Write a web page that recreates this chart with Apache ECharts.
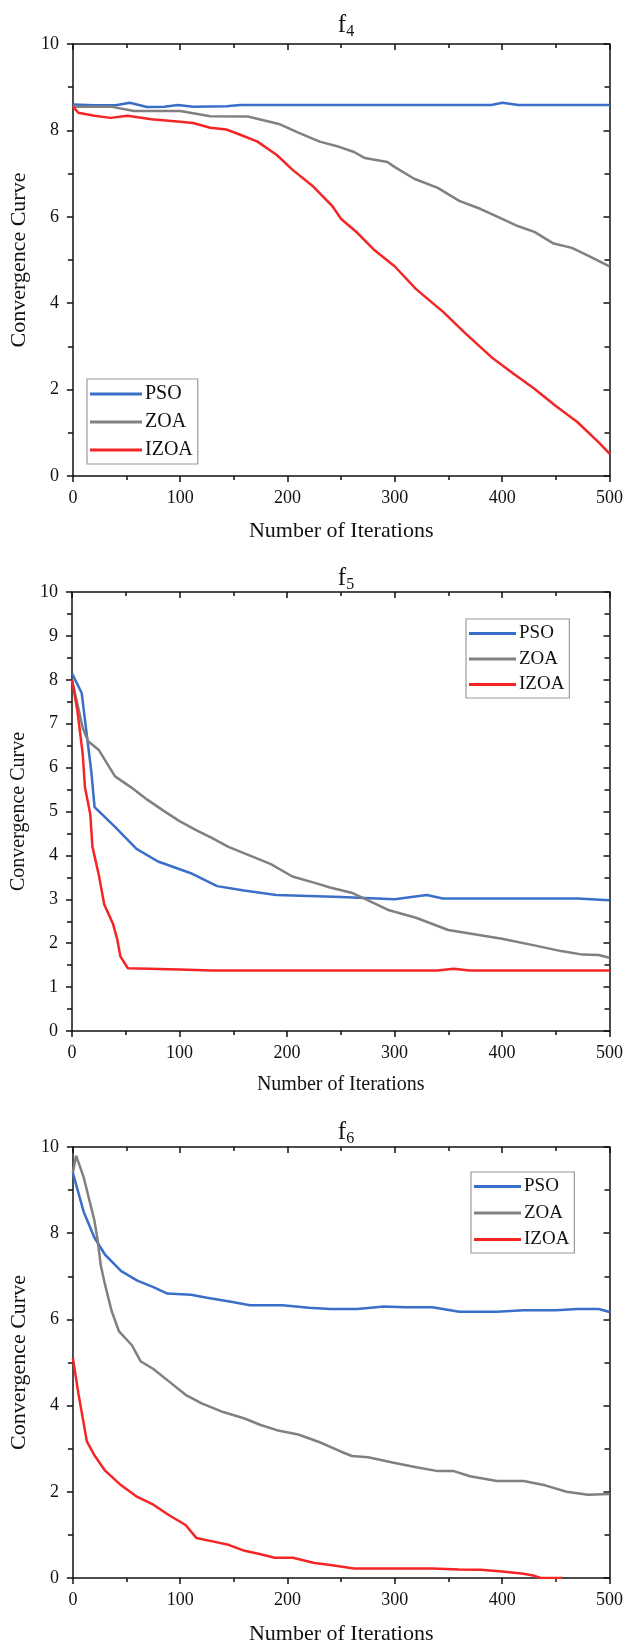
<!DOCTYPE html>
<html>
<head>
<meta charset="utf-8">
<script src="https://cdn.jsdelivr.net/npm/echarts@6/dist/echarts.min.js"></script>
<style>
  html, body { margin: 0; padding: 0; background: #fff; }
  #chart { width: 626px; height: 1650px; }
</style>
</head>
<body>
<div id="chart"></div>
<script>
// f4
const f4PsoX = [0, 20, 40, 53, 69, 85, 98, 112, 143, 156, 390, 400, 415, 500]
const f4PsoY = [8.6, 8.58, 8.58, 8.64, 8.54, 8.55, 8.59, 8.55, 8.56, 8.59, 8.59, 8.64, 8.59, 8.59]
const f4ZoaX = [0, 35, 57, 100, 128, 163, 192, 210, 230, 248, 262, 272, 293, 300, 318, 340, 360, 380, 400, 415, 430, 448, 465, 480, 500]
const f4ZoaY = [8.55, 8.55, 8.45, 8.45, 8.33, 8.32, 8.15, 7.95, 7.74, 7.62, 7.5, 7.36, 7.27, 7.15, 6.88, 6.67, 6.37, 6.18, 5.95, 5.78, 5.65, 5.38, 5.28, 5.1, 4.85]
const f4IzoaX = [0, 5, 20, 35, 51, 73, 100, 112, 128, 143, 156, 172, 190, 205, 224, 242, 250, 265, 280, 300, 320, 345, 365, 390, 410, 430, 450, 470, 490, 500]
const f4IzoaY = [8.55, 8.41, 8.34, 8.29, 8.34, 8.26, 8.2, 8.17, 8.06, 8.02, 7.9, 7.74, 7.43, 7.08, 6.7, 6.24, 5.95, 5.63, 5.25, 4.85, 4.32, 3.8, 3.32, 2.75, 2.38, 2.02, 1.62, 1.25, 0.78, 0.52]

// f5
const f5PsoX = [0, 9, 15, 18, 21, 40, 60, 80, 110, 135, 160, 190, 250, 300, 330, 345, 470, 500]
const f5PsoY = [8.15, 7.7, 6.5, 5.9, 5.1, 4.65, 4.15, 3.86, 3.6, 3.3, 3.2, 3.1, 3.05, 3.0, 3.1, 3.02, 3.02, 2.98]
const f5ZoaX = [0, 10, 15, 25, 40, 55, 70, 85, 100, 115, 130, 145, 165, 185, 205, 225, 240, 260, 275, 295, 320, 350, 400, 430, 455, 475, 490, 500]
const f5ZoaY = [8.0, 6.9, 6.6, 6.4, 5.8, 5.55, 5.27, 5.02, 4.78, 4.58, 4.4, 4.2, 4.0, 3.8, 3.52, 3.38, 3.27, 3.15, 2.98, 2.75, 2.58, 2.3, 2.1, 1.95, 1.82, 1.74, 1.73, 1.67]
const f5IzoaX = [0, 5, 10, 12, 17, 19, 25, 30, 38, 42, 45, 52, 100, 130, 340, 355, 370, 500]
const f5IzoaY = [8.0, 7.3, 6.3, 5.56, 4.94, 4.2, 3.55, 2.88, 2.45, 2.1, 1.7, 1.43, 1.4, 1.38, 1.38, 1.42, 1.38, 1.38]

// f6
const f6PsoX = [0, 10, 20, 30, 45, 60, 75, 88, 110, 125, 150, 165, 195, 220, 240, 265, 290, 310, 335, 360, 395, 420, 450, 470, 490, 500]
const f6PsoY = [9.4, 8.5, 7.9, 7.5, 7.12, 6.9, 6.75, 6.6, 6.57, 6.5, 6.4, 6.33, 6.33, 6.27, 6.24, 6.24, 6.3, 6.28, 6.28, 6.18, 6.18, 6.21, 6.21, 6.24, 6.24, 6.17]
const f6ZoaX = [0, 3, 10, 20, 23, 26, 30, 36, 43, 55, 63, 75, 90, 105, 120, 140, 160, 175, 190, 210, 230, 250, 260, 275, 300, 320, 340, 355, 370, 395, 420, 440, 460, 480, 500]
const f6ZoaY = [9.4, 9.8, 9.3, 8.3, 7.85, 7.25, 6.8, 6.2, 5.72, 5.4, 5.03, 4.85, 4.55, 4.25, 4.05, 3.85, 3.7, 3.55, 3.43, 3.33, 3.15, 2.93, 2.83, 2.8, 2.67, 2.57, 2.48, 2.48, 2.36, 2.25, 2.25, 2.15, 2.0, 1.93, 1.95]
const f6IzoaX = [0, 5, 13, 20, 30, 45, 60, 75, 90, 105, 115, 130, 145, 160, 175, 188, 205, 225, 240, 262, 300, 335, 360, 380, 400, 420, 430, 436, 456]
const f6IzoaY = [5.1, 4.3, 3.17, 2.85, 2.49, 2.15, 1.88, 1.7, 1.45, 1.23, 0.93, 0.85, 0.77, 0.63, 0.55, 0.47, 0.47, 0.35, 0.3, 0.22, 0.22, 0.22, 0.2, 0.19, 0.15, 0.1, 0.05, 0.0, 0.0]

const names = ['PSO', 'ZOA', 'IZOA']
const colors = ['#3a6fc9', '#808080', '#f52525']
const subs = ['4', '5', '6']

const FONT = 'Liberation Serif'
const zip = (xs, ys) => xs.map((x, i) => [x, ys[i]])

const panels = [
  { top: 44, height: 432, yInterval: 2, titleTop: 5, nameSize: 22, nameGap: 44,
    legend: { left: 87, top: 379, size: 20, itemWidth: 52, gap: 8 },
    lines: [zip(f4PsoX, f4PsoY), zip(f4ZoaX, f4ZoaY), zip(f4IzoaX, f4IzoaY)] },
  { top: 592, height: 439, yInterval: 1, titleTop: 558, nameSize: 20, nameGap: 44,
    legend: { left: 466, top: 619, size: 19, itemWidth: 47, gap: 6.5 },
    lines: [zip(f5PsoX, f5PsoY), zip(f5ZoaX, f5ZoaY), zip(f5IzoaX, f5IzoaY)] },
  { top: 1147, height: 431, yInterval: 2, titleTop: 1112, nameSize: 22, nameGap: 45,
    legend: { left: 471, top: 1172, size: 19, itemWidth: 47, gap: 7.5 },
    lines: [zip(f6PsoX, f6PsoY), zip(f6ZoaX, f6ZoaY), zip(f6IzoaX, f6IzoaY)] }
]

const axisLine = { show: true, onZero: false, lineStyle: { color: '#111', width: 1.5 } }
const labelStyle = { color: '#111', fontFamily: FONT, fontSize: 18 }
const tickStyle = { color: '#111', width: 1.5 }

const chart = echarts.init(document.getElementById('chart'))

const option = {
  animation: false,
  backgroundColor: '#fff',
  title: [],
  legend: [],
  grid: [],
  xAxis: [],
  yAxis: [],
  series: []
}

panels.forEach((p, k) => {
  option.title.push({
    text: '{f|f}{s|' + subs[k] + '}',
    left: 341,
    top: p.titleTop,
    textAlign: 'center',
    textStyle: {
      fontWeight: 'normal',
      rich: {
        f: { fontFamily: FONT, fontSize: 25, fontWeight: 'normal', color: '#111', lineHeight: 30 },
        s: { fontFamily: FONT, fontSize: 16, fontWeight: 'normal', color: '#111', verticalAlign: 'bottom', lineHeight: 30, padding: [14, 0, 0, 0] }
      }
    }
  })
  option.grid.push({ left: 72, right: 15, top: p.top, height: p.height })
  option.xAxis.push({
    type: 'value', gridIndex: k, position: 'bottom', min: 0, max: 500, interval: 100,
    axisLine: axisLine,
    axisTick: { show: true, length: 6, lineStyle: tickStyle },
    minorTick: { show: true, splitNumber: 2, length: 4, lineStyle: tickStyle },
    splitLine: { show: false },
    axisLabel: Object.assign({ margin: 13 }, labelStyle),
    name: 'Number of Iterations', nameLocation: 'middle', nameGap: p.nameGap,
    nameTextStyle: { color: '#111', fontFamily: FONT, fontSize: p.nameSize }
  }, {
    type: 'value', gridIndex: k, position: 'top', min: 0, max: 500, interval: 100,
    axisLine: axisLine,
    axisTick: { show: true, inside: true, length: 6, lineStyle: tickStyle },
    minorTick: { show: true, splitNumber: 2, length: 4, lineStyle: tickStyle },
    splitLine: { show: false },
    axisLabel: { show: false }
  })
  option.yAxis.push({
    type: 'value', gridIndex: k, position: 'left', min: 0, max: 10, interval: p.yInterval,
    axisLine: axisLine,
    axisTick: { show: true, length: 6, lineStyle: tickStyle },
    minorTick: { show: true, splitNumber: 2, length: 5, lineStyle: tickStyle },
    splitLine: { show: false },
    axisLabel: Object.assign({ margin: 14 }, labelStyle),
    name: 'Convergence Curve', nameLocation: 'middle', nameGap: 36,
    nameTextStyle: { color: '#111', fontFamily: FONT, fontSize: p.nameSize }
  }, {
    type: 'value', gridIndex: k, position: 'right', min: 0, max: 10, interval: p.yInterval,
    axisLine: axisLine,
    axisTick: { show: true, inside: true, length: 6, lineStyle: tickStyle },
    minorTick: { show: true, splitNumber: 2, length: 5, lineStyle: tickStyle },
    splitLine: { show: false },
    axisLabel: { show: false }
  })
  option.legend.push({
    data: names,
    orient: 'vertical',
    left: p.legend.left,
    top: p.legend.top,
    icon: 'rect',
    itemWidth: p.legend.itemWidth,
    itemHeight: 3,
    itemGap: p.legend.gap,
    padding: [5, 5, 4, 3],
    borderColor: '#9a9a9a',
    borderWidth: 1.2,
    backgroundColor: '#fff',
    textStyle: {
      color: '#111', fontFamily: FONT, fontSize: p.legend.size,
      lineHeight: p.legend.size, padding: [0, 0, 0, -2]
    }
  })
  p.lines.forEach((d, i) => {
    option.series.push({
      name: names[i],
      type: 'line',
      xAxisIndex: 2 * k,
      yAxisIndex: 2 * k,
      data: d,
      symbol: 'none',
      smooth: false,
      clip: true,
      lineStyle: { color: colors[i], width: 2.5 },
      itemStyle: { color: colors[i] },
      z: 3 + i
    })
  })
})

chart.setOption(option)
</script>
</body>
</html>
